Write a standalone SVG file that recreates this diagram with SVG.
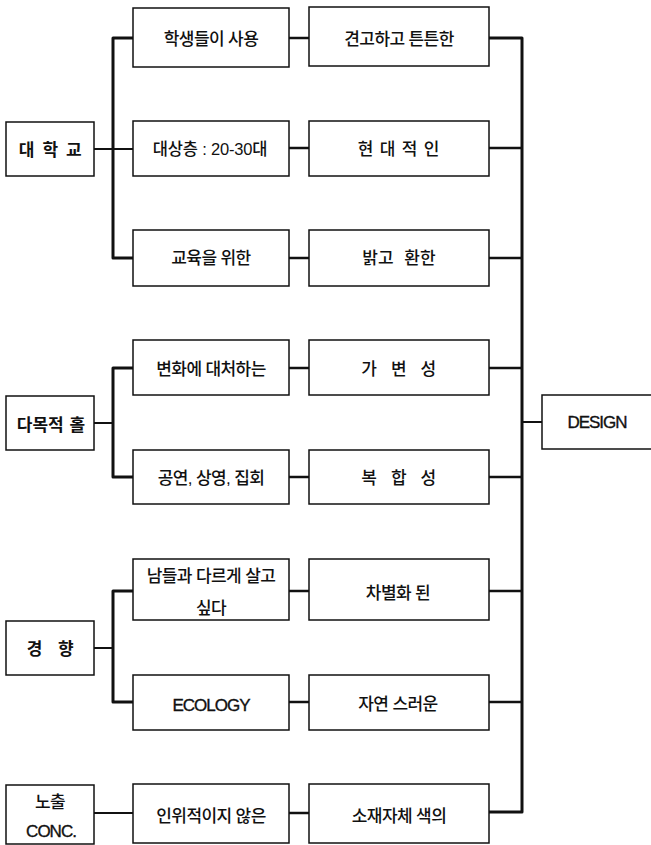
<svg xmlns="http://www.w3.org/2000/svg" width="651" height="845" viewBox="0 0 651 845">
<style>
.box{fill:#fff;stroke:#111;stroke-width:1.5}
.t{font-family:"Liberation Sans","Noto Sans CJK KR",sans-serif;font-size:17px;font-weight:500;letter-spacing:-0.6px;fill:#111;text-anchor:middle}
.l{font-size:17px;letter-spacing:-1px;font-weight:normal;stroke:#111;stroke-width:0.35}
.b{font-weight:bold}
.ln{fill:none;stroke:#111;stroke-linejoin:round}
.trunk{stroke-width:3}
.br{stroke-width:2.5}
.th{stroke-width:2}
</style>
<rect x="0" y="0" width="651" height="845" fill="#fff"/>
<g id="connectors">
  <path class="ln trunk" d="M133,38 H113 V258 H133"/>
  <path class="ln th" d="M94,149 H133"/>
  <path class="ln trunk" d="M133,368 H113 V477 H133"/>
  <path class="ln th" d="M94,423 H113"/>
  <path class="ln trunk" d="M133,591 H113 V702 H133"/>
  <path class="ln th" d="M94,648 H113"/>
  <path class="ln th" d="M94,813 H133"/>
  <path class="ln br" d="M289,38 H309"/>
  <path class="ln br" d="M289,148 H309"/>
  <path class="ln br" d="M289,258 H309"/>
  <path class="ln br" d="M289,368 H309"/>
  <path class="ln br" d="M289,477 H309"/>
  <path class="ln br" d="M289,591 H309"/>
  <path class="ln br" d="M289,702 H309"/>
  <path class="ln br" d="M289,813 H309"/>
  <path class="ln trunk" d="M489,38 H522 V812 H489"/>
  <path class="ln br" d="M489,148 H522"/>
  <path class="ln br" d="M489,258 H522"/>
  <path class="ln br" d="M489,368 H522"/>
  <path class="ln br" d="M489,477 H522"/>
  <path class="ln br" d="M489,591 H522"/>
  <path class="ln br" d="M489,702 H522"/>
  <path class="ln th" d="M522,422 H542"/>
</g>
<g id="n-daehakgyo"><rect class="box" x="6" y="122" width="88" height="54"/><text class="t b" x="51" y="155.5" style="letter-spacing:1.6px">대 학 교</text></g>
<g id="n-damokjeok"><rect class="box" x="6" y="396" width="88" height="54"/><text class="t b" x="51" y="430.5" style="letter-spacing:0;word-spacing:1px">다목적 홀</text></g>
<g id="n-gyeonghyang"><rect class="box" x="6" y="621" width="88" height="54"/><text class="t b" x="53" y="654.5" style="letter-spacing:5.5px">경 향</text></g>
<g id="n-nochul"><rect class="box" x="6" y="785" width="88" height="59"/><text class="t" x="50" y="808">노출</text><text class="t l" x="51" y="837">CONC.</text></g>

<g id="n-a2"><rect class="box" x="133" y="8" width="156" height="59"/><text class="t" x="211" y="44.5">학생들이 사용</text></g>
<g id="n-b2"><rect class="box" x="133" y="121" width="156" height="55"/><text class="t" x="210" y="154.5" style="font-size:16.5px;letter-spacing:-0.2px">대상층 : 20-30대</text></g>
<g id="n-c2"><rect class="box" x="133" y="230" width="156" height="56"/><text class="t" x="211" y="263.5">교육을 위한</text></g>
<g id="n-d2"><rect class="box" x="133" y="340" width="156" height="55"/><text class="t" x="211" y="374.5">변화에 대처하는</text></g>
<g id="n-e2"><rect class="box" x="133" y="450" width="156" height="54"/><text class="t" x="211" y="483.5">공연, 상영, 집회</text></g>
<g id="n-f2"><rect class="box" x="133" y="559" width="156" height="61"/><text class="t" x="211" y="582">남들과 다르게 살고</text><text class="t" x="211" y="613.5">싶다</text></g>
<g id="n-g2"><rect class="box" x="133" y="675" width="156" height="55"/><text class="t l" x="211" y="710.5">ECOLOGY</text></g>
<g id="n-h2"><rect class="box" x="133" y="784" width="156" height="59"/><text class="t" x="211" y="821.5">인위적이지 않은</text></g>

<g id="n-a3"><rect class="box" x="309" y="7" width="180" height="59"/><text class="t" x="399" y="44.5">견고하고 튼튼한</text></g>
<g id="n-b3"><rect class="box" x="309" y="121" width="180" height="55"/><text class="t" x="399" y="154.5" style="letter-spacing:0.8px">현 대 적 인</text></g>
<g id="n-c3"><rect class="box" x="309" y="230" width="180" height="56"/><text class="t" x="399" y="263.5" style="letter-spacing:0;word-spacing:6px">밝고 환한</text></g>
<g id="n-d3"><rect class="box" x="309" y="340" width="180" height="55"/><text class="t" x="401" y="374.5" style="letter-spacing:4.6px">가 변 성</text></g>
<g id="n-e3"><rect class="box" x="309" y="450" width="180" height="54"/><text class="t" x="401" y="483.5" style="letter-spacing:4.6px">복 합 성</text></g>
<g id="n-f3"><rect class="box" x="309" y="559" width="180" height="61"/><text class="t" x="398" y="598.5">차별화 된</text></g>
<g id="n-g3"><rect class="box" x="309" y="675" width="180" height="55"/><text class="t" x="398" y="709.5">자연 스러운</text></g>
<g id="n-h3"><rect class="box" x="309" y="784" width="180" height="59"/><text class="t" x="399" y="821.5">소재자체 색의</text></g>

<g id="n-design"><rect class="box" x="542" y="395" width="112" height="54"/><text class="t l" x="597" y="428">DESIGN</text></g>
</svg>
